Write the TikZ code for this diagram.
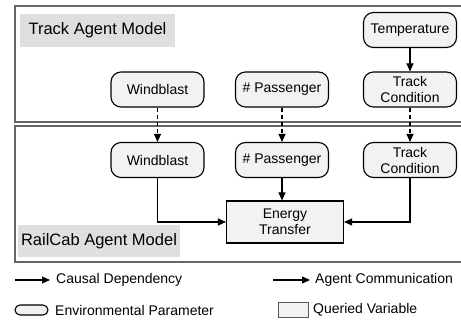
\documentclass[tikz,border=0pt]{standalone}
\usepackage{fontspec}
\setmainfont{Liberation Sans}
\usetikzlibrary{arrows.meta, positioning, calc}

\begin{document}
\begin{tikzpicture}[x=1pt,y=-1pt,
  envpar/.style={draw, rounded corners=10pt, fill=gray!10, line width=1.1pt, minimum width=93pt, minimum height=35pt, align=center, inner sep=1pt, font=\fontsize{14}{16}\selectfont},
  qvar/.style={draw, fill=gray!10, line width=1.1pt, minimum width=117pt, minimum height=42pt, align=center, inner sep=1pt, font=\fontsize{14}{16}\selectfont},
  modlabel/.style={fill=gray!25, inner sep=0pt, font=\fontsize{16.5}{18}\selectfont},
  causal/.style={-{Triangle[length=8pt,width=7pt]}, line width=1.1pt},
  comm/.style={causal, dash pattern=on 4pt off 3pt},
  legtext/.style={anchor=west, inner sep=0pt, font=\fontsize{14}{16}\selectfont}]
\useasboundingbox (0,0) rectangle (461,323);
% model frames
\draw[line width=1.3pt, gray!80!black] (475,6) -- (15,6) -- (15,122) -- (475,122);
\draw[line width=1.3pt, gray!80!black] (475,126) -- (15,126) -- (15,262) -- (475,262);
\node[modlabel, minimum width=155pt, minimum height=33pt] (tam) at (97.5,30.5) {Track Agent Model};
\node[modlabel, minimum width=162pt, minimum height=32pt] (ram) at (99,241) {RailCab Agent Model};
% track agent
\node[envpar] (temp) at (410,30) {Temperature};
\node[envpar] (tc1) at (410,89.5) {Track\\Condition};
\node[envpar] (pas1) at (282,89.5) {\# Passenger};
\node[envpar] (wb1) at (157.5,89.5) {Windblast};
% railcab agent
\node[envpar] (wb2) at (157.5,160) {Windblast};
\node[envpar] (pas2) at (282,160) {\# Passenger};
\node[envpar] (tc2) at (410,160) {Track\\Condition};
\node[qvar] (et) at (285,222) {Energy\\Transfer};
% dependencies
\draw[causal] (temp) -- (tc1);
\draw[comm] (wb1) -- (wb2);
\draw[comm] (pas1) -- (pas2);
\draw[comm] (tc1) -- (tc2);
\draw[causal] (wb2.south) |- (et.west);
\draw[causal] (pas2.south) -- (pas2.south |- et.north);
\draw[causal] (tc2.south) |- (et.east);
% legend
\coordinate (l1a) at (15,280);
\coordinate (l1b) at (50,280);
\coordinate (l2a) at (273,280);
\coordinate (l2b) at (310,280);
\draw[causal] (l1a) -- (l1b);
\node[legtext] (l1t) at (56,280) {Causal Dependency};
\draw[causal] (l2a) -- (l2b);
\node[legtext] (l2t) at (315,280) {Agent Communication};
\node[draw, fill=gray!10, line width=1.1pt, rounded corners=5pt, minimum width=33pt, minimum height=10pt, inner sep=0pt] (l3) at (31.5,310) {};
\node[legtext] (l3t) at (55,310) {Environmental Parameter};
\node[draw=gray!70!black, fill=gray!10, line width=1pt, minimum width=30pt, minimum height=15pt, inner sep=0pt] (l4) at (293,310.5) {};
\node[legtext] (l4t) at (313,310) {Queried Variable};
\end{tikzpicture}
\end{document}
